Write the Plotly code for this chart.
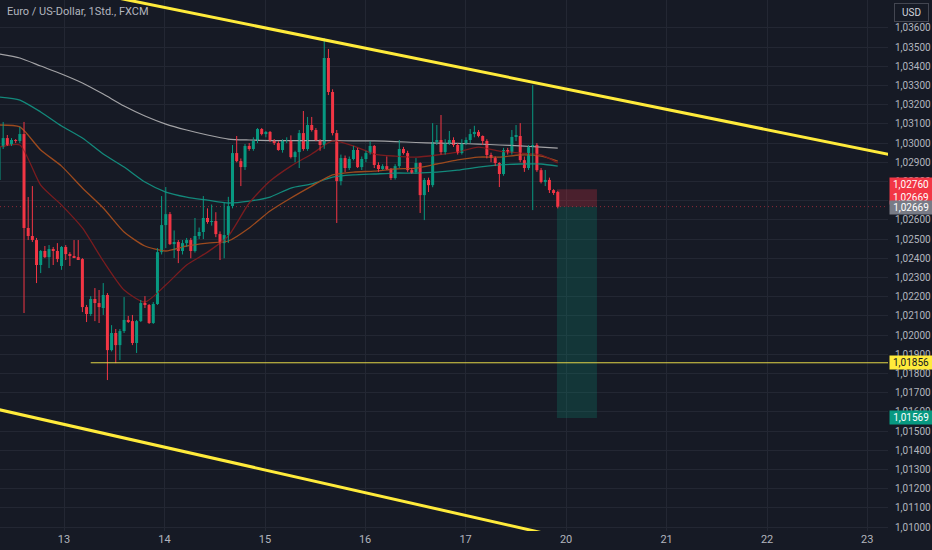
import plotly.graph_objects as go

# ---------------- data ----------------
candle_idx = list(range(135))
open_ = [1.02808, 1.02979, 1.03026, 1.02990, 1.03016, 1.03011, 1.03047, 1.02558, 1.02516, 1.02495,
         1.02365, 1.02438, 1.02406, 1.02448, 1.02438, 1.02360, 1.02459, 1.02422, 1.02412, 1.02406,
         1.02396, 1.02146, 1.02110, 1.02188, 1.02167, 1.02141, 1.02209, 1.01922, 1.02011, 1.01948,
         1.02021, 1.02079, 1.02073, 1.01959, 1.02073, 1.02167, 1.02157, 1.02063, 1.02162, 1.02432,
         1.02573, 1.02630, 1.02474, 1.02485, 1.02438, 1.02479, 1.02495, 1.02438, 1.02516, 1.02537,
         1.02610, 1.02589, 1.02594, 1.02526, 1.02479, 1.02521, 1.02672, 1.02948, 1.02906, 1.02875,
         1.02985, 1.02969, 1.03011, 1.03073, 1.03047, 1.03058, 1.03011, 1.03000, 1.02964, 1.03011,
         1.03016, 1.02927, 1.02953, 1.03052, 1.02969, 1.03094, 1.03068, 1.03016, 1.02990, 1.03443,
         1.03266, 1.03052, 1.02802, 1.02922, 1.02870, 1.02917, 1.02964, 1.02875, 1.02917, 1.02948,
         1.02985, 1.02886, 1.02865, 1.02880, 1.02865, 1.02818, 1.02880, 1.02969, 1.02948, 1.02859,
         1.02849, 1.02896, 1.02729, 1.02808, 1.02781, 1.03005, 1.03016, 1.02953, 1.03000, 1.03016,
         1.02990, 1.02948, 1.03000, 1.03016, 1.03047, 1.03058, 1.03037, 1.03011, 1.02938, 1.02922,
         1.02896, 1.02839, 1.02964, 1.02953, 1.03032, 1.03037, 1.02911, 1.02870, 1.02979, 1.02990,
         1.02859, 1.02797, 1.02808, 1.02755, 1.02745]
high = [1.02990, 1.03110, 1.03042, 1.03026, 1.03021, 1.03084, 1.03110, 1.02719, 1.02776, 1.02506,
        1.02443, 1.02464, 1.02469, 1.02459, 1.02479, 1.02464, 1.02469, 1.02432, 1.02495, 1.02495,
        1.02401, 1.02157, 1.02203, 1.02245, 1.02235, 1.02271, 1.02219, 1.02052, 1.02032, 1.02032,
        1.02198, 1.02100, 1.02105, 1.02079, 1.02183, 1.02203, 1.02162, 1.02172, 1.02453, 1.02724,
        1.02771, 1.02641, 1.02545, 1.02495, 1.02495, 1.02506, 1.02506, 1.02610, 1.02560, 1.02724,
        1.02660, 1.02680, 1.02640, 1.02540, 1.02690, 1.02720, 1.02990, 1.03037, 1.02920, 1.02995,
        1.03000, 1.03030, 1.03078, 1.03078, 1.03063, 1.03063, 1.03021, 1.03010, 1.03020, 1.03030,
        1.03040, 1.02960, 1.03068, 1.03167, 1.03136, 1.03136, 1.03078, 1.03020, 1.03547, 1.03490,
        1.03280, 1.03068, 1.02940, 1.02935, 1.02930, 1.02985, 1.02975, 1.02930, 1.02960, 1.03010,
        1.02990, 1.02900, 1.02890, 1.02930, 1.02870, 1.02890, 1.03016, 1.02980, 1.02960, 1.02870,
        1.02922, 1.02900, 1.02818, 1.02820, 1.03104, 1.03094, 1.03146, 1.03020, 1.03063, 1.03030,
        1.03000, 1.03020, 1.03030, 1.03073, 1.03090, 1.03068, 1.03040, 1.03020, 1.02950, 1.02930,
        1.02900, 1.02975, 1.02975, 1.03068, 1.03094, 1.03104, 1.02930, 1.02990, 1.03302, 1.03000,
        1.02870, 1.02860, 1.02820, 1.02760, 1.02750]
low = [1.02797, 1.02969, 1.02985, 1.02985, 1.03000, 1.03000, 1.02115, 1.02495, 1.02485, 1.02271,
       1.02323, 1.02401, 1.02349, 1.02365, 1.02380, 1.02340, 1.02391, 1.02360, 1.02401, 1.02391,
       1.02120, 1.02068, 1.02100, 1.02073, 1.02063, 1.02105, 1.01766, 1.01915, 1.01854, 1.01870,
       1.02011, 1.02063, 1.01948, 1.01907, 1.02068, 1.02141, 1.02058, 1.02058, 1.02157, 1.02420,
       1.02453, 1.02469, 1.02401, 1.02375, 1.02420, 1.02460, 1.02400, 1.02430, 1.02500, 1.02500,
       1.02580, 1.02570, 1.02510, 1.02391, 1.02400, 1.02480, 1.02660, 1.02900, 1.02776, 1.02860,
       1.02960, 1.02960, 1.03000, 1.03040, 1.03030, 1.03005, 1.02990, 1.02960, 1.02950, 1.03000,
       1.02920, 1.02900, 1.02870, 1.02960, 1.02960, 1.03060, 1.03010, 1.02960, 1.02970, 1.03250,
       1.03040, 1.02584, 1.02780, 1.02849, 1.02860, 1.02910, 1.02870, 1.02860, 1.02900, 1.02940,
       1.02870, 1.02850, 1.02860, 1.02860, 1.02808, 1.02810, 1.02870, 1.02940, 1.02850, 1.02840,
       1.02840, 1.02636, 1.02599, 1.02745, 1.02770, 1.02990, 1.02940, 1.02940, 1.02990, 1.02980,
       1.02940, 1.02940, 1.02990, 1.03000, 1.03030, 1.03030, 1.02990, 1.02920, 1.02900, 1.02880,
       1.02771, 1.02830, 1.02940, 1.02940, 1.03010, 1.02900, 1.02850, 1.02860, 1.02651, 1.02850,
       1.02790, 1.02776, 1.02740, 1.02730, 1.02660]
close = [1.02979, 1.03026, 1.02990, 1.03016, 1.03011, 1.03047, 1.02558, 1.02516, 1.02495, 1.02365,
         1.02438, 1.02406, 1.02448, 1.02438, 1.02396, 1.02459, 1.02422, 1.02412, 1.02406, 1.02391,
         1.02146, 1.02110, 1.02188, 1.02167, 1.02146, 1.02209, 1.01922, 1.02011, 1.01948, 1.02021,
         1.02079, 1.02073, 1.01959, 1.02073, 1.02167, 1.02157, 1.02063, 1.02162, 1.02432, 1.02573,
         1.02630, 1.02474, 1.02485, 1.02438, 1.02479, 1.02495, 1.02438, 1.02516, 1.02537, 1.02610,
         1.02589, 1.02594, 1.02526, 1.02479, 1.02521, 1.02672, 1.02948, 1.02906, 1.02875, 1.02985,
         1.02969, 1.03011, 1.03073, 1.03047, 1.03058, 1.03011, 1.03000, 1.02964, 1.03011, 1.03016,
         1.02927, 1.02953, 1.03052, 1.02969, 1.03094, 1.03068, 1.03016, 1.02990, 1.03443, 1.03266,
         1.03052, 1.02802, 1.02922, 1.02870, 1.02917, 1.02964, 1.02875, 1.02917, 1.02948, 1.02985,
         1.02886, 1.02865, 1.02880, 1.02865, 1.02818, 1.02880, 1.02969, 1.02948, 1.02859, 1.02849,
         1.02896, 1.02729, 1.02808, 1.02781, 1.03005, 1.03016, 1.02953, 1.03000, 1.03016, 1.02990,
         1.02948, 1.03000, 1.03016, 1.03047, 1.03058, 1.03037, 1.03011, 1.02938, 1.02922, 1.02896,
         1.02839, 1.02964, 1.02953, 1.03032, 1.03037, 1.02911, 1.02870, 1.02979, 1.02990, 1.02859,
         1.02797, 1.02808, 1.02755, 1.02745, 1.02669]

ma_idx = [0, 5, 10, 15, 20, 25, 30, 35, 40, 45, 50, 55, 60, 65, 70, 75, 80, 85, 90, 95,
          100, 105, 110, 115, 120, 125, 130, 134]
ma_grey = [1.03464, 1.03443, 1.03401, 1.03360, 1.03313, 1.03255, 1.03193, 1.03141, 1.03099, 1.03068,
           1.03042, 1.03021, 1.03016, 1.03013, 1.03013, 1.03013, 1.03013, 1.03011, 1.03011, 1.03008,
           1.03003, 1.03000, 1.02998, 1.02995, 1.02990, 1.02985, 1.02979, 1.02974]
ma_teal = [1.03240, 1.03224, 1.03162, 1.03089, 1.03026, 1.02943, 1.02875, 1.02797, 1.02745, 1.02719,
           1.02703, 1.02688, 1.02698, 1.02719, 1.02766, 1.02787, 1.02823, 1.02834, 1.02839, 1.02844,
           1.02844, 1.02849, 1.02859, 1.02875, 1.02886, 1.02891, 1.02891, 1.02880]
ma_orange = [1.03094, 1.03084, 1.02964, 1.02880, 1.02766, 1.02662, 1.02537, 1.02464, 1.02438, 1.02464,
             1.02479, 1.02490, 1.02558, 1.02646, 1.02714, 1.02776, 1.02834, 1.02849, 1.02854, 1.02865,
             1.02870, 1.02891, 1.02912, 1.02927, 1.02927, 1.02938, 1.02932, 1.02906]
ma_red = [1.02979, 1.02990, 1.02781, 1.02677, 1.02558, 1.02386, 1.02235, 1.02172, 1.02261, 1.02365,
          1.02432, 1.02516, 1.02688, 1.02802, 1.02880, 1.02943, 1.03011, 1.02985, 1.02943, 1.02932,
          1.02927, 1.02938, 1.02953, 1.02979, 1.02958, 1.02948, 1.02938, 1.02896]

# drawings
upper_trend_idx = [25, 214]
upper_trend_px = [1.03771, 1.02938]
lower_trend_idx = [0, 130]
lower_trend_px = [1.01612, 1.00972]
support_level = 1.01856
support_start_idx = 22
pos_start_idx, pos_end_idx = 133.8, 143.4
entry_px, stop_px, target_px = 1.02669, 1.02760, 1.01569
last_px = 1.02669

day_tick_idx = [15.6, 39.7, 63.8, 87.8, 111.9, 136.0, 160.1, 184.2, 208.2]
day_labels = ["13", "14", "15", "16", "17", "20", "21", "22", "23"]
price_ticks = [round(1.010 + 0.001 * k, 3) for k in range(27)]
price_labels = [f"{v:.5f}".replace(".", ",") for v in price_ticks]

def fmt(v):
    return f"{v:.5f}".replace(".", ",")

# ---------------- styles ----------------
BG = "#161A25"
GRID = "#232733"
UP = "#089981"
DOWN = "#F23645"
TXT = "#B2B5BE"
YEL = "#FFEB3B"

fig = go.Figure()

# moving averages
for ys, col, w in [(ma_grey, "#A3A3A6", 1.2), (ma_teal, "#13897B", 1.3),
                   (ma_orange, "#9C4A1E", 1.3), (ma_red, "#7A1C1F", 1.3)]:
    fig.add_trace(go.Scatter(x=ma_idx, y=ys, mode="lines",
                             line=dict(color=col, width=w, shape="spline", smoothing=0.6),
                             hoverinfo="skip"))

# candles: wicks + bodies
for up in (True, False):
    wx, wy = [], []
    bx, bbase, bh = [], [], []
    for i, o, h, l, c in zip(candle_idx, open_, high, low, close):
        if (c >= o) != up:
            continue
        wx += [i, i, None]
        wy += [l, h, None]
        bx.append(i)
        bbase.append(min(o, c))
        bh.append(max(abs(c - o), 0.000025))
    col = UP if up else DOWN
    fig.add_trace(go.Scatter(x=wx, y=wy, mode="lines", line=dict(color=col, width=1),
                             hoverinfo="skip"))
    fig.add_trace(go.Bar(x=bx, y=bh, base=bbase, width=0.72, marker=dict(color=col, line=dict(width=0)),
                         hoverinfo="skip"))

# trend lines
fig.add_trace(go.Scatter(x=upper_trend_idx, y=upper_trend_px, mode="lines",
                         line=dict(color=YEL, width=3), hoverinfo="skip"))
fig.add_trace(go.Scatter(x=lower_trend_idx, y=lower_trend_px, mode="lines",
                         line=dict(color=YEL, width=3), hoverinfo="skip"))
fig.add_trace(go.Scatter(x=[support_start_idx, 230], y=[support_level, support_level], mode="lines",
                         line=dict(color="#E3D548", width=1), hoverinfo="skip"))

shapes = [
    dict(type="rect", xref="x", yref="y", x0=pos_start_idx, x1=pos_end_idx, y0=entry_px, y1=stop_px,
         fillcolor="rgba(242,54,69,0.24)", line=dict(width=0), layer="between"),
    dict(type="rect", xref="x", yref="y", x0=pos_start_idx, x1=pos_end_idx, y0=target_px, y1=entry_px,
         fillcolor="rgba(8,153,129,0.22)", line=dict(width=0), layer="between"),
    dict(type="line", xref="paper", yref="y", x0=0, x1=1, y0=last_px, y1=last_px,
         line=dict(color="rgba(242,54,69,0.55)", width=1, dash="1px,3px"), layer="between"),
]

def price_tag(y, text, bg, fg, yshift=0):
    return dict(xref="paper", yref="y", x=1, y=y, xanchor="left", yanchor="middle",
                xshift=1, yshift=yshift, text=text, showarrow=False, bgcolor=bg,
                font=dict(family="Roboto, sans-serif", size=10, color=fg),
                width=40, borderpad=1, align="center")

annotations = [
    dict(xref="paper", yref="paper", x=0, y=1, xanchor="left", yanchor="top", xshift=5, yshift=-3,
         text="Euro / US-Dollar, 1Std., FXCM", showarrow=False,
         font=dict(family="Roboto, sans-serif", size=11, color=TXT)),
    dict(xref="paper", yref="paper", x=1, y=1, xanchor="left", yanchor="top", xshift=6, yshift=-3,
         text="USD", showarrow=False, bordercolor="#434651", borderwidth=1, borderpad=3,
         bgcolor=BG, width=27, font=dict(family="Roboto, sans-serif", size=10, color="#D1D4DC")),
    price_tag(stop_px, fmt(stop_px) + "<br>" + fmt(entry_px), DOWN, "#FFFFFF", yshift=-2),
    price_tag(last_px, fmt(last_px), "#787B86", "#FFFFFF", yshift=-1),
    price_tag(support_level, fmt(support_level), YEL, "#131722"),
    price_tag(target_px, fmt(target_px), UP, "#FFFFFF"),
]

fig.update_layout(
    width=932, height=550,
    margin=dict(l=0, r=44, t=0, b=19),
    paper_bgcolor=BG, plot_bgcolor=BG,
    showlegend=False, barmode="overlay", hovermode=False,
    shapes=shapes, annotations=annotations,
    font=dict(family="Roboto, sans-serif", color=TXT),
    xaxis=dict(range=[0.24, 213.2], tickvals=day_tick_idx, ticktext=day_labels,
               showgrid=True, gridcolor=GRID, gridwidth=1, zeroline=False, showline=False,
               ticks="", tickfont=dict(size=11, color=TXT), fixedrange=True),
    yaxis=dict(side="right", range=[1.00980, 1.03745], tickvals=price_ticks, ticktext=price_labels,
               showgrid=True, gridcolor=GRID, gridwidth=1, zeroline=False, showline=False,
               ticks="", ticklabelstandoff=6, tickfont=dict(size=10, color=TXT), fixedrange=True),
)

fig.write_html("out.html", config={"displayModeBar": False},
               post_script="document.body.style.margin='0';document.body.style.background='#161A25';")
